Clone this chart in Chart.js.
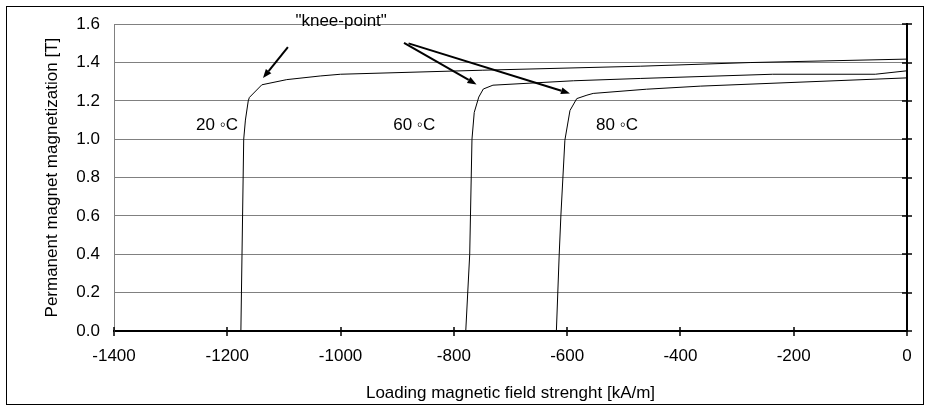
<!DOCTYPE html>
<html>
<head>
<meta charset="utf-8">
<script src="https://cdn.jsdelivr.net/npm/chart.js@4/dist/chart.umd.min.js"></script>
<style>
    html, body { margin: 0; padding: 0; background: #fff; }
    #wrap { width: 929px; height: 408px; }
</style>
</head>
<body>
<div id="wrap"><canvas id="chart" width="929" height="408"></canvas></div>
<script>
// demagnetization curves, H in kA/m, B in T
var h20 = [-1176, -1174, -1171, -1168, -1163, -1161, -1139, -1095, -1036, -1000, -750, -470, -277, 0]
var b20 = [0, 0.40, 1.00, 1.10, 1.20, 1.218, 1.284, 1.311, 1.330, 1.339, 1.360, 1.381, 1.400, 1.418]

var h60 = [-779, -772, -768, -764, -756, -748, -731, -589, -471, -237, -56, 0]
var b60 = [0, 0.40, 1.00, 1.14, 1.22, 1.262, 1.282, 1.305, 1.317, 1.339, 1.339, 1.357]

var h80 = [-619, -614, -611, -604, -595, -583, -565, -554, -460, -365, 0]
var b80 = [0, 0.40, 0.605, 0.995, 1.15, 1.212, 1.23, 1.239, 1.261, 1.277, 1.32]

var curveLabels = ['20 \u25E6C', '60 \u25E6C', '80 \u25E6C']
var curveLabelX = [-1218, -870, -512]
var curveLabelY = [1.074, 1.074, 1.074]

var kneeText = '"knee-point"'
var kneeTextPos = [-999, 1.616]
// arrows: [fromX, fromY, toX, toY] in data units
var kneeArrows = [
    [-1093, 1.480, -1137, 1.319],
    [-888, 1.502, -760, 1.286],
    [-880, 1.500, -595, 1.239],
]

var xTicks = [-1400, -1200, -1000, -800, -600, -400, -200, 0]
var yTicks = [0, 0.2, 0.4, 0.6, 0.8, 1.0, 1.2, 1.4, 1.6]

var FONT = 'Liberation Sans, Arial, sans-serif'
var FSIZE = 17

function toPoints(xs, ys) {
    var pts = []
    for (let i = 0; i < xs.length; i++) {
        pts.push({x: xs[i], y: ys[i]})
    }
    return pts
}

function curve(xs, ys) {
    return {
        data: toPoints(xs, ys),
        borderColor: '#000',
        borderWidth: 1,
        pointRadius: 0,
        tension: 0,
        fill: false,
    }
}

function drawArrow(ctx, x1, y1, x2, y2) {
    var ang = Math.atan2(y2 - y1, x2 - x1)
    var len = 9
    var half = 3.5
    var bx = x2 - len * Math.cos(ang)
    var by = y2 - len * Math.sin(ang)
    ctx.beginPath()
    ctx.moveTo(x1, y1)
    ctx.lineTo(bx, by)
    ctx.stroke()
    ctx.beginPath()
    ctx.moveTo(x2, y2)
    ctx.lineTo(bx + half * Math.sin(ang), by - half * Math.cos(ang))
    ctx.lineTo(bx - half * Math.sin(ang), by + half * Math.cos(ang))
    ctx.closePath()
    ctx.fill()
}

var extras = {
    id: 'extras',
    afterDraw(chart) {
        var ctx = chart.ctx
        var xs = chart.scales.x
        var ys = chart.scales.y
        var area = chart.chartArea
        ctx.save()

        // crossing tick marks on bottom and right axes
        ctx.strokeStyle = '#000'
        ctx.lineWidth = 1.5
        ctx.beginPath()
        xTicks.forEach(function(v) {
            var px = Math.round(xs.getPixelForValue(v))
            ctx.moveTo(px, area.bottom - 4)
            ctx.lineTo(px, area.bottom + 5)
        })
        yTicks.forEach(function(v) {
            var py = Math.round(ys.getPixelForValue(v))
            ctx.moveTo(area.right - 5, py)
            ctx.lineTo(area.right + 5, py)
        })
        ctx.stroke()

        // curve labels
        ctx.fillStyle = '#000'
        ctx.font = FSIZE + 'px ' + FONT
        ctx.textAlign = 'center'
        ctx.textBaseline = 'middle'
        for (let i = 0; i < curveLabels.length; i++) {
            ctx.fillText(curveLabels[i], xs.getPixelForValue(curveLabelX[i]), ys.getPixelForValue(curveLabelY[i]))
        }
        ctx.fillText(kneeText, xs.getPixelForValue(kneeTextPos[0]), ys.getPixelForValue(kneeTextPos[1]))

        // arrows
        ctx.lineWidth = 2
        kneeArrows.forEach(function(a) {
            drawArrow(ctx, xs.getPixelForValue(a[0]), ys.getPixelForValue(a[1]),
                xs.getPixelForValue(a[2]), ys.getPixelForValue(a[3]))
        })

        // frame around the whole picture
        ctx.lineWidth = 1
        ctx.strokeStyle = '#000'
        ctx.strokeRect(6.5, 6.5, 917, 398)
        ctx.restore()
    }
}

new Chart(document.getElementById('chart'), {
    type: 'line',
    data: {
        datasets: [curve(h20, b20), curve(h60, b60), curve(h80, b80)],
    },
    options: {
        responsive: false,
        animation: false,
        events: [],
        layout: {padding: {top: 24, left: 0, right: 0, bottom: 0}},
        plugins: {
            legend: {display: false},
            tooltip: {enabled: false},
        },
        scales: {
            x: {
                type: 'linear',
                position: 'bottom',
                min: -1400,
                max: 0,
                afterBuildTicks: function(scale) {
                    scale.ticks = xTicks.map(function(v) { return {value: v} })
                },
                afterFit: function(scale) { scale.height = 77 },
                grid: {display: false, drawTicks: false},
                border: {display: true, color: '#000', width: 2},
                ticks: {
                    color: '#000',
                    padding: 15,
                    maxRotation: 0,
                    font: {family: FONT, size: FSIZE},
                    callback: function(v) { return String(v) },
                },
                title: {
                    display: true,
                    text: 'Loading magnetic field strenght [kA/m]',
                    color: '#000',
                    font: {family: FONT, size: FSIZE},
                    padding: {top: 0, bottom: 4},
                },
            },
            y: {
                type: 'linear',
                position: 'left',
                min: 0,
                max: 1.6,
                afterBuildTicks: function(scale) {
                    scale.ticks = yTicks.map(function(v) { return {value: v} })
                },
                afterFit: function(scale) { scale.width = 114 },
                grid: {
                    drawTicks: false,
                    lineWidth: 1,
                    color: function(c) { return c.tick && c.tick.value === 0 ? 'rgba(0,0,0,0)' : '#808080' },
                },
                border: {display: true, color: '#808080', width: 1},
                ticks: {
                    color: '#000',
                    padding: 14,
                    font: {family: FONT, size: FSIZE},
                    callback: function(v) { return v.toFixed(1) },
                },
                title: {
                    display: true,
                    text: 'Permanent magnet magnetization [T]',
                    color: '#000',
                    font: {family: FONT, size: FSIZE},
                    padding: {top: 42, bottom: 0},
                },
            },
            y2: {
                type: 'linear',
                position: 'right',
                min: 0,
                max: 1.6,
                afterFit: function(scale) { scale.width = 22 },
                grid: {display: false, drawTicks: false},
                border: {display: true, color: '#000', width: 2},
                ticks: {display: false},
            },
        },
    },
    plugins: [extras],
})
</script>
</body>
</html>
